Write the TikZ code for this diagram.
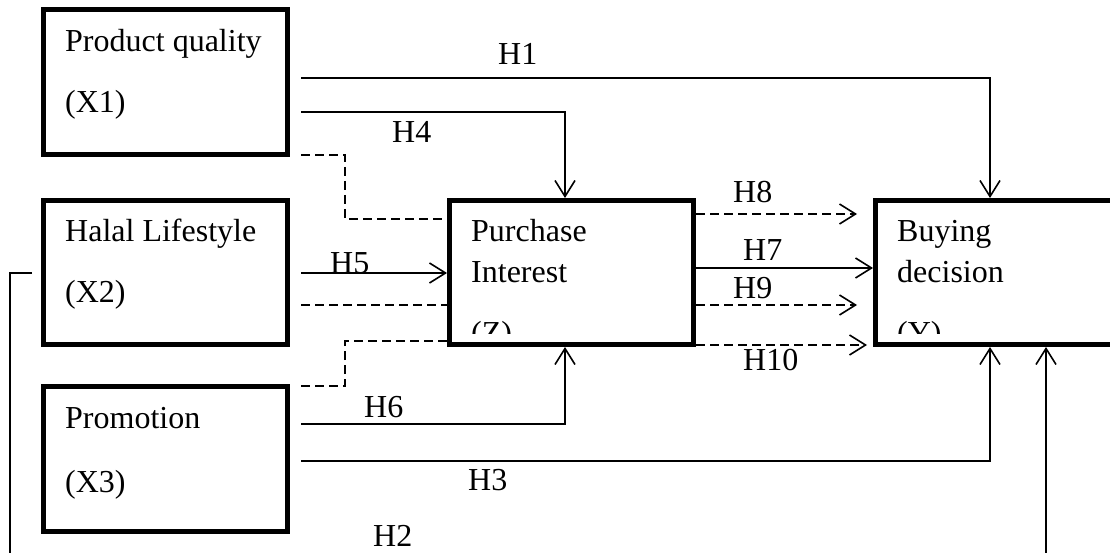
\documentclass[tikz,border=0pt]{standalone}
\usepackage{fontspec}
\setmainfont{Liberation Serif}
\usetikzlibrary{arrows.meta}
\begin{document}
\begin{tikzpicture}[x=1pt,y=-1pt,
  box/.style={draw, line width=5pt, rectangle, inner sep=0pt},
  txt/.style={anchor=base west, inner sep=0pt, font=\fontsize{32}{38}\selectfont},
  conn/.style={line width=1.6pt},
  arr/.style={conn, -{Straight Barb[length=16pt,width=20pt]}},
  dsh/.style={conn, dash pattern=on 9pt off 5pt},
  darr/.style={dsh, -{Straight Barb[length=16pt,width=20pt]}}]
\useasboundingbox (0,0) rectangle (1110,553);
\fill[white] (0,0) rectangle (1110,553);
\clip (0,0) rectangle (1110,553);

% boxes
\node[box, minimum width=243.5pt, minimum height=144.5pt] (x1) at (165.25,82.25) {};
\node[box, minimum width=243.5pt, minimum height=143.5pt] (x2) at (165.25,272.75) {};
\node[box, minimum width=243.5pt, minimum height=144.5pt] (x3) at (165.25,458.75) {};
\node[box, minimum width=244pt, minimum height=144pt] (z) at (571.5,272.5) {};
\node[box, minimum width=244.5pt, minimum height=144pt] (y) at (997.75,272.5) {};

% box texts
\node[txt] (t1a) at (65,52) {Product quality};
\node[txt] (t1b) at (65,113) {(X1)};
\node[txt] (t2a) at (65,241) {Halal Lifestyle};
\node[txt] (t2b) at (65,302) {(X2)};
\node[txt] (t3a) at (65,428) {Promotion};
\node[txt] (t3b) at (65,492) {(X3)};
\node[txt] (tza) at (471,242) {Purchase};
\node[txt] (tzb) at (471,282) {Interest};
\node[txt] (tya) at (897,242) {Buying};
\node[txt] (tyb) at (897,282) {decision};
\begin{scope}
  \clip (452,200) rectangle (1110,333);
  \node[txt] (tzc) at (471,343) {(Z)};
  \node[txt] (tyc) at (897,343) {(Y)};
\end{scope}

% coordinates
\coordinate (h1s) at (301,78);
\coordinate (h1c) at (990,78);
\coordinate (h4s) at (301,112);
\coordinate (h4c) at (565,112);
\coordinate (d1s) at (301,155);
\coordinate (d1c) at (345,219);
\coordinate (h5s) at (301,273);
\coordinate (d2s) at (301,305);
\coordinate (d3s) at (301,386);
\coordinate (d3c) at (345,341);
\coordinate (h6s) at (301,424);
\coordinate (h6c) at (565,424);
\coordinate (h3s) at (301,461);
\coordinate (h3c) at (990,461);
\coordinate (h2s) at (32,273);
\coordinate (h2a) at (10,273);
\coordinate (h2b) at (10,620);
\coordinate (h2c) at (1046,620);
\coordinate (h8y) at (857,214);
\coordinate (h7y) at (0,268);
\coordinate (h9y) at (857,305);
\coordinate (h10y) at (867,345);

% connectors from X boxes
\draw[arr] (h1s) -- (h1c) -- (h1c |- y.north);
\draw[arr] (h4s) -- (h4c) -- (h4c |- z.north);
\draw[dsh] (d1s) -| (d1c) -- (d1c -| z.west);
\draw[arr] (h5s) -- (h5s -| z.west);
\draw[dsh] (d2s) -- (d2s -| z.west);
\draw[dsh] (d3s) -| (d3c) -- (d3c -| z.west);
\draw[arr] (h6s) -- (h6c) -- (h6c |- z.south);
\draw[arr] (h3s) -- (h3c) -- (h3c |- y.south);
\draw[arr] (h2s) -- (h2a) -- (h2b) -- (h2c) -- (h2c |- y.south);

% connectors from Z to Y
\draw[darr] (z.east |- h8y) -- (h8y);
\draw[arr] (z.east |- h7y) -- (y.west |- h7y);
\draw[darr] (z.east |- h9y) -- (h9y);
\draw[darr] (z.east |- h10y) -- (h10y);

% labels
\node[txt] (lh1) at (498,65) {H1};
\node[txt] (lh4) at (392,143) {H4};
\node[txt] (lh5) at (330,273) {H5};
\node[txt] (lh6) at (364,417) {H6};
\node[txt] (lh3) at (468,490) {H3};
\node[txt] (lh2) at (373,546) {H2};
\node[txt] (lh8) at (733,203) {H8};
\node[txt] (lh7) at (743,260) {H7};
\node[txt] (lh9) at (733,298) {H9};
\node[txt] (lh10) at (743,370) {H10};
\end{tikzpicture}
\end{document}
